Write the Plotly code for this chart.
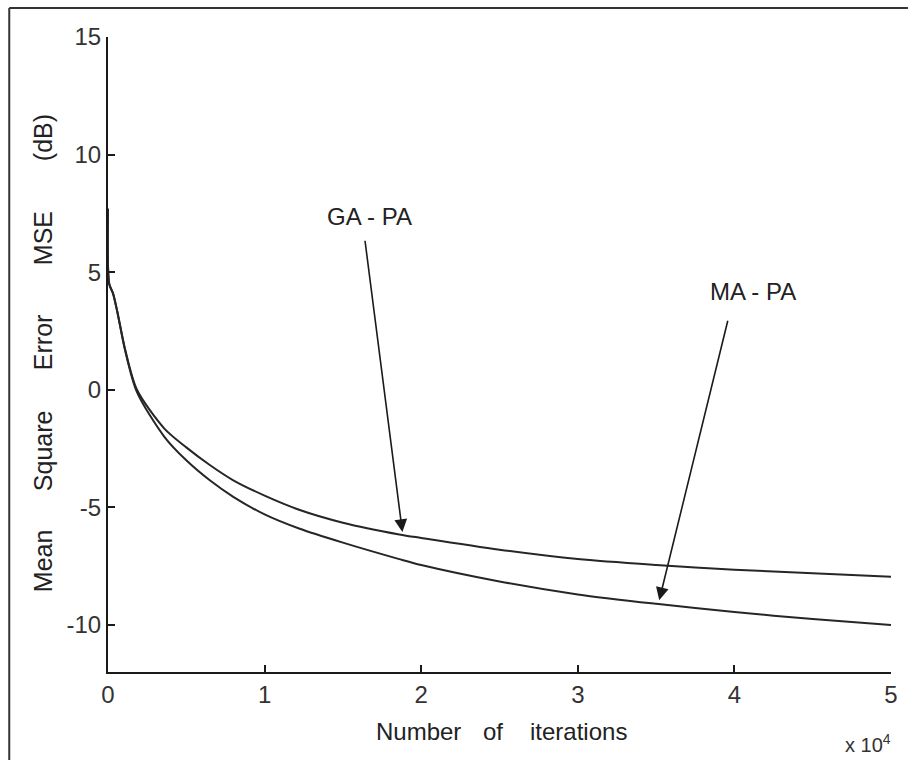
import plotly.graph_objects as go

# ---- data (x in units of 10^4 iterations, y in dB) ----
iterations = [0, 0.008, 0.032, 0.06, 0.11, 0.185, 0.36, 0.5, 0.65, 0.8, 1.0, 1.22, 1.5,
              1.86, 2.0, 2.5, 3.0, 3.5, 4.0, 4.5, 5.0]
mse_ga_pa = [7.7, 4.5, 4.1, 3.3, 1.7, 0.0, -1.65, -2.45, -3.2, -3.85, -4.5, -5.1, -5.65,
             -6.15, -6.3, -6.8, -7.2, -7.45, -7.65, -7.8, -7.95]
mse_ma_pa = [7.7, 4.5, 4.1, 3.3, 1.65, -0.1, -2.0, -3.0, -3.85, -4.55, -5.3, -5.9, -6.5,
             -7.2, -7.45, -8.15, -8.7, -9.1, -9.45, -9.75, -10.0]
x_ticks = [0, 1, 2, 3, 4, 5]
y_ticks = [-10, -5, 0, 5, 10, 15]
y_title_words = ["(dB)", "MSE", "Error", "Square", "Mean"]
x_title_words = ["Number", "of", "iterations"]

# arrow label positions (data units)
ga_label = (1.67, 7.35)
ga_arrow_tail = (1.64, 6.4)
ga_arrow_head = (1.88, -6.05)
ma_label = (4.12, 4.2)
ma_arrow_tail = (3.96, 3.0)
ma_arrow_head = (3.52, -8.95)

# ---- layout geometry (pixels) ----
W, H = 910, 760
L, R, T, B = 108, 17, 37, 88
PW, PH = W - L - R, H - T - B


def px(xp):
    return (xp - L) / PW


def py(yp):
    return (H - B - yp) / PH


FONT = "Liberation Sans, Arial, sans-serif"
LINE = "#262626"

fig = go.Figure()
fig.add_trace(go.Scatter(x=iterations, y=mse_ga_pa, mode="lines",
                         line=dict(color=LINE, width=2, shape="spline", smoothing=0.8),
                         name="GA - PA"))
fig.add_trace(go.Scatter(x=iterations, y=mse_ma_pa, mode="lines",
                         line=dict(color=LINE, width=2, shape="spline", smoothing=0.8),
                         name="MA - PA"))

annotations = []
# arrows
for head, tail in [(ga_arrow_head, ga_arrow_tail), (ma_arrow_head, ma_arrow_tail)]:
    annotations.append(dict(x=head[0], y=head[1], ax=tail[0], ay=tail[1],
                            xref="x", yref="y", axref="x", ayref="y",
                            text="", showarrow=True, arrowhead=2, arrowsize=1.6,
                            arrowwidth=1.6, arrowcolor="#1a1a1a", standoff=0))
# labels
for txt, pos in [("GA - PA", ga_label), ("MA - PA", ma_label)]:
    annotations.append(dict(x=pos[0], y=pos[1], xref="x", yref="y", text=txt,
                            showarrow=False, font=dict(family=FONT, size=24, color="#222")))
# y title words (rotated)
for word, yc in zip(y_title_words, [138, 238, 342, 451, 561]):
    annotations.append(dict(x=px(43), y=py(yc), xref="paper", yref="paper", text=word,
                            textangle=-90, showarrow=False, xanchor="center", yanchor="middle",
                            font=dict(family=FONT, size=25, color="#222")))
# x title words
for word, xc in zip(x_title_words, [419, 494, 580]):
    annotations.append(dict(x=px(xc), y=py(731), xref="paper", yref="paper", text=word,
                            showarrow=False, xanchor="center", yanchor="middle",
                            font=dict(family=FONT, size=24, color="#222")))
# exponent label
annotations.append(dict(x=px(895), y=py(743), xref="paper", yref="paper",
                        text="x 10<sup>4</sup>", showarrow=False, xanchor="right",
                        yanchor="middle", font=dict(family=FONT, size=20, color="#333")))

shapes = [
    dict(type="line", xref="paper", yref="paper", x0=px(9), x1=px(910), y0=py(8), y1=py(8),
         line=dict(color="#333", width=2)),
    dict(type="line", xref="paper", yref="paper", x0=px(9), x1=px(9), y0=py(8), y1=py(762),
         line=dict(color="#333", width=2)),
]

axis_common = dict(showgrid=False, zeroline=False, showline=True, linecolor="#1a1a1a",
                   linewidth=2, ticks="inside", ticklen=7, tickwidth=1.5, tickcolor="#1a1a1a",
                   tickfont=dict(family=FONT, size=24, color="#333"), mirror=False)

fig.update_layout(
    width=W, height=H,
    margin=dict(l=L, r=R, t=T, b=B),
    paper_bgcolor="white", plot_bgcolor="white",
    showlegend=False,
    xaxis=dict(range=[0, 5], tickvals=x_ticks, ticktext=[str(v) for v in x_ticks], **axis_common),
    yaxis=dict(range=[-12, 15], tickvals=y_ticks, ticktext=[str(v) for v in y_ticks], **axis_common),
    annotations=annotations,
    shapes=shapes,
)

fig.write_html("out.html")
